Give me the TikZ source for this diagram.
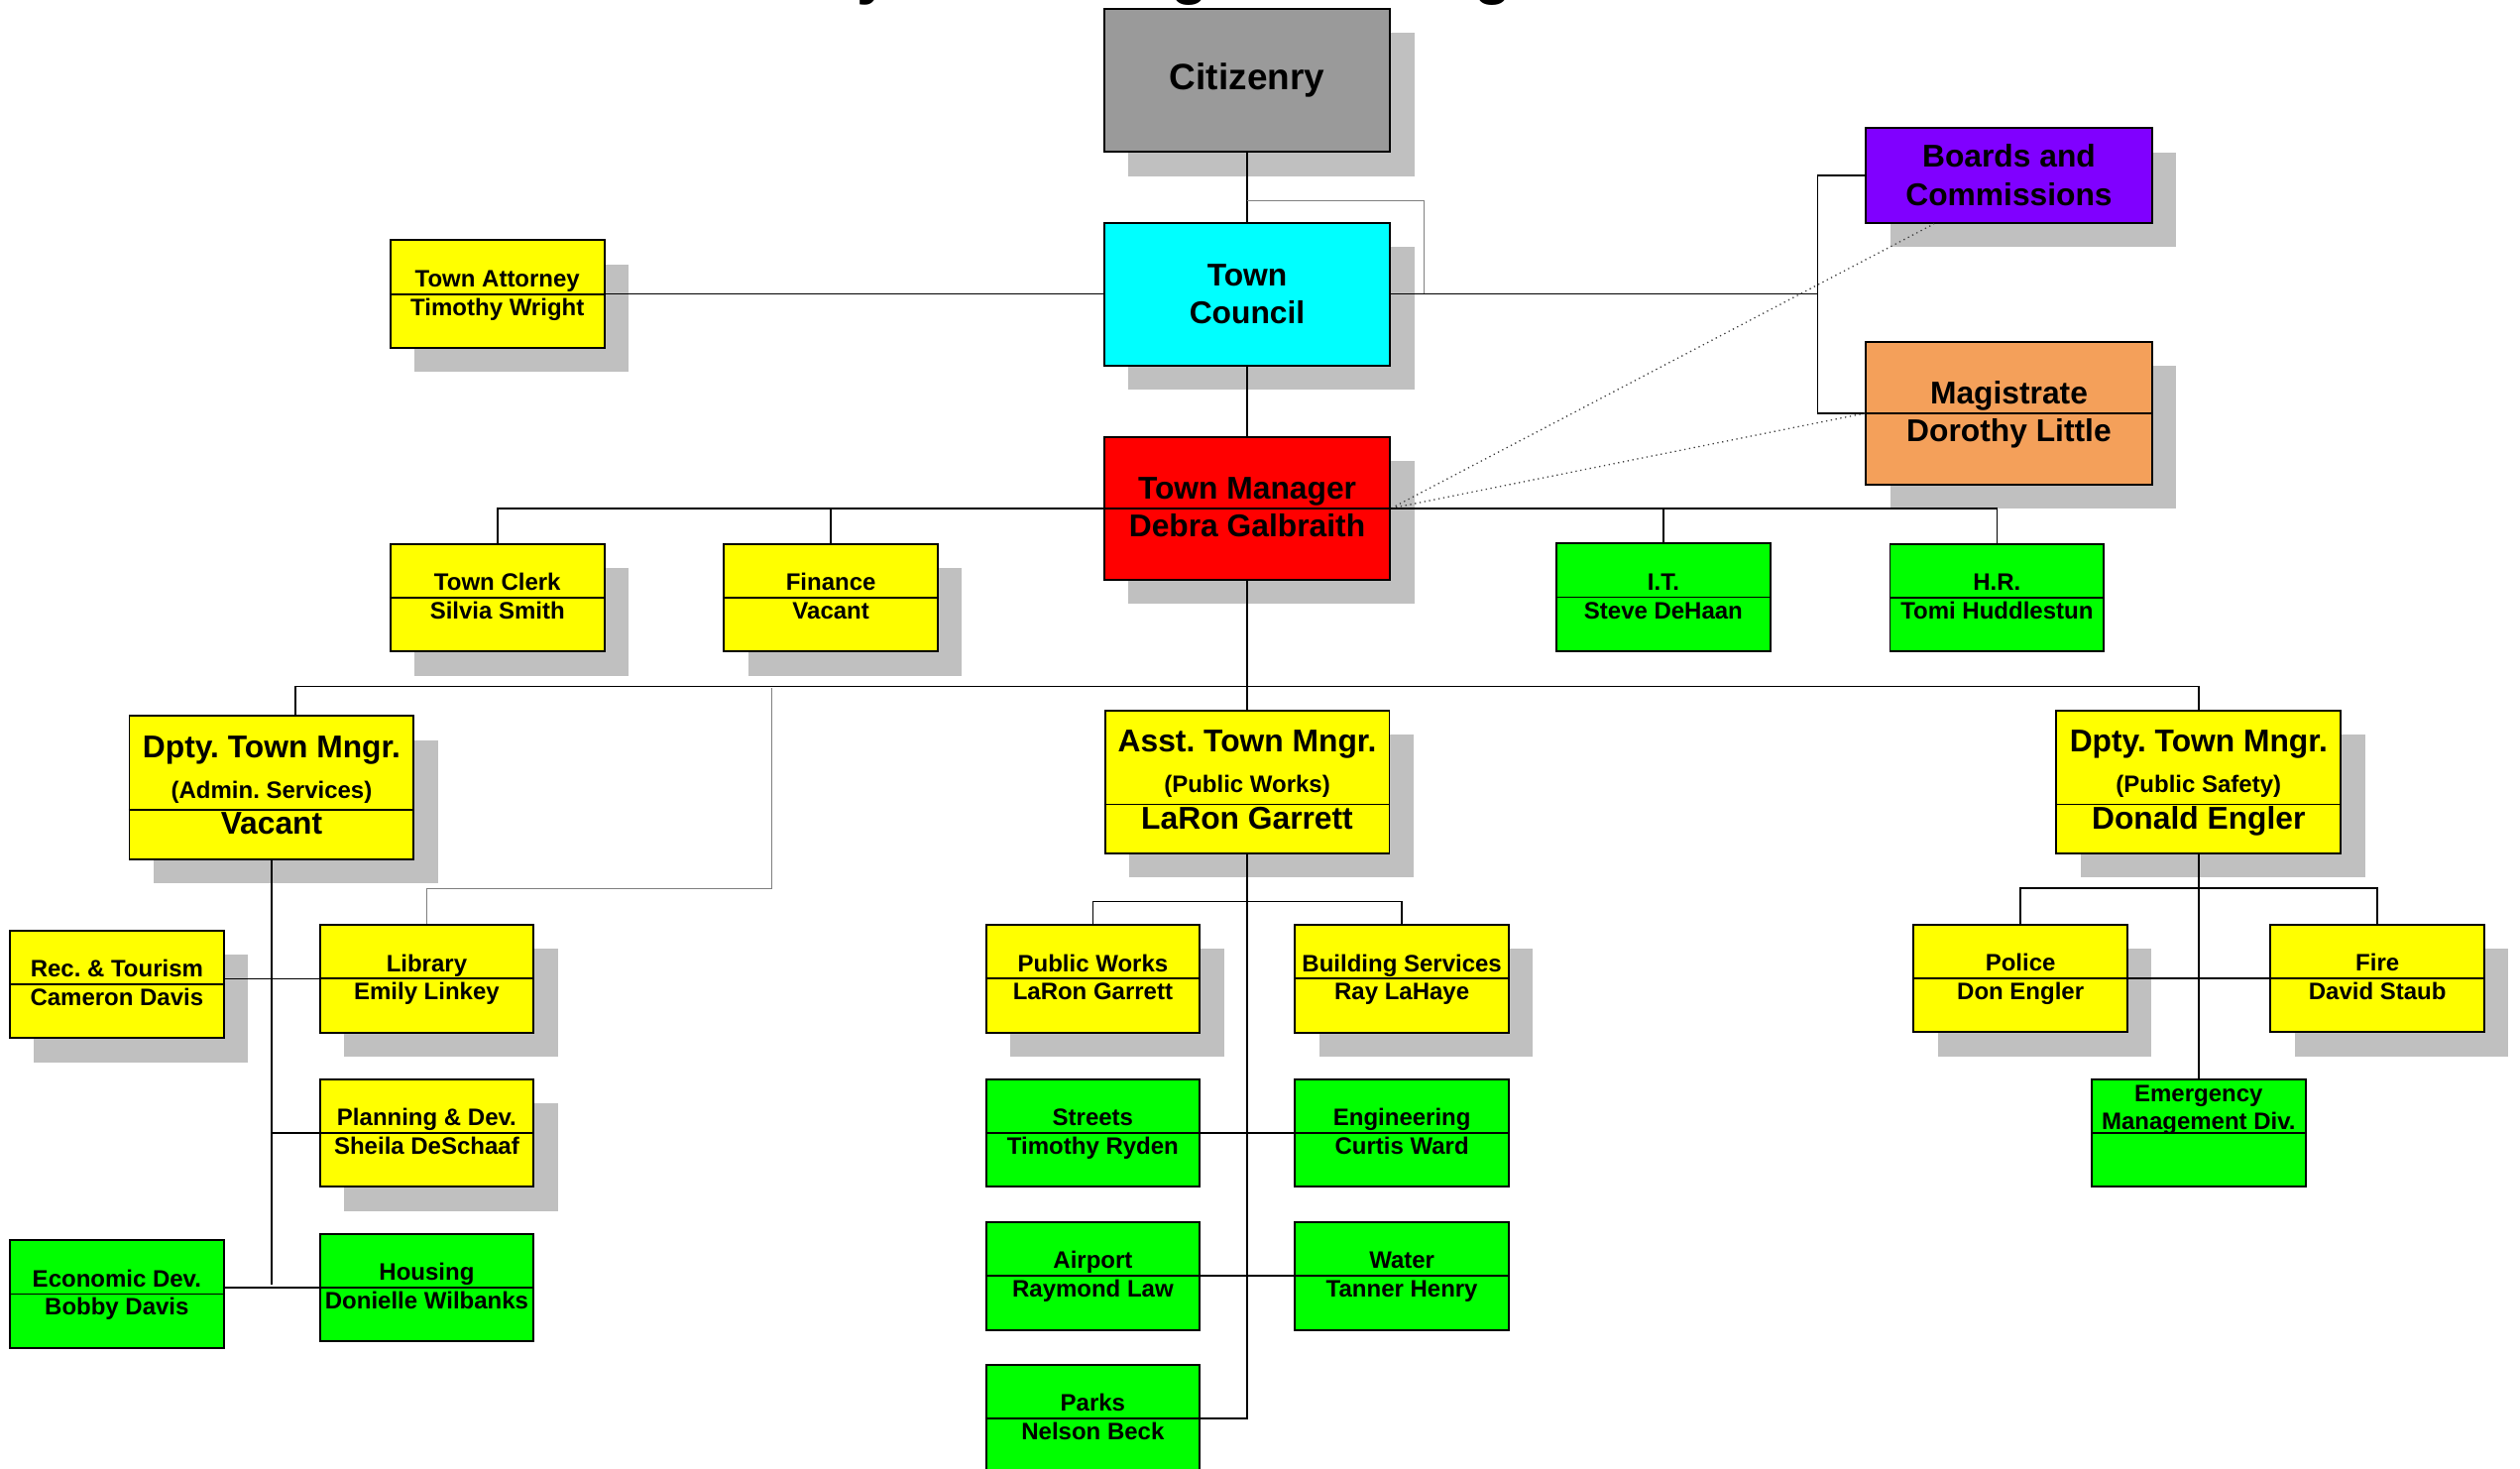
\documentclass[tikz,border=0pt]{standalone}
\usepackage{fontspec}
\setmainfont{Liberation Sans}
\usepackage{tikz}
\usetikzlibrary{positioning, calc, shadows}
\definecolor{citizenGray}{HTML}{9A9A9A}
\definecolor{shadowGray}{HTML}{C0C0C0}
\definecolor{councilCyan}{HTML}{00FFFF}
\definecolor{managerRed}{HTML}{FF0000}
\definecolor{boardsViolet}{HTML}{8000FF}
\definecolor{courtOrange}{HTML}{F4A05A}
\definecolor{deptYellow}{HTML}{FFFF00}
\definecolor{divGreen}{HTML}{00FF00}
\definecolor{thinGray}{HTML}{808080}
\newcommand{\unitfont}{\fontsize{14.8}{17.8}\selectfont\bfseries}
\newcommand{\headfont}{\fontsize{19.6}{24}\selectfont\bfseries}
\newcommand{\crowdfont}{\fontsize{22.8}{27}\selectfont\bfseries}
\newcommand{\chartfont}{\fontsize{37.8}{44}\selectfont\bfseries}
\tikzset{
  unit/.style={rectangle, draw=black, line width=1.2pt, inner sep=0pt,
    align=center},
  boxshadow/.style={drop shadow={shadow xshift=15pt, shadow yshift=-15pt,
    fill=shadowGray, opacity=1}},
  bigunit/.style={unit, minimum width=178pt, minimum height=89pt},
  smallunit/.style={unit, minimum width=133pt, minimum height=67pt},
  chiefunit/.style={unit, minimum width=177pt, minimum height=89pt},
  ttl/.style={anchor=base, yshift=4.5pt, font=\unitfont},
  who/.style={anchor=base, yshift=-13.3pt, font=\unitfont},
  bigttl/.style={anchor=base, yshift=6pt, font=\headfont},
  bigwho/.style={anchor=base, yshift=-17.5pt, font=\headfont},
  splitline/.style={line width=1.1pt},
  link/.style={line width=1pt},
  thinlink/.style={line width=0.6pt, thinGray},
  dotlink/.style={line width=0.8pt, black!75, dash pattern=on 0.8pt off 2.2pt},
}
% box split in title and holder at its middle
\newcommand{\postbox}[6][]{%
  \node[#4] (#2) at (#3) {};
  \draw[splitline] (#2.west) -- (#2.east);
  \node[#1ttl] (#2-t) at (#2.center) {#5};
  \node[#1who] (#2-n) at (#2.center) {#6};}
% deputy box: title, area, split, holder
\newcommand{\deputybox}[5]{%
  \node[chiefunit, fill=deptYellow, boxshadow] (#1) at (#2) {};
  \coordinate (#1-split) at ([yshift=-14pt]#1.center);
  \draw[splitline] (#1-split -| #1.west) -- (#1-split -| #1.east);
  \node[anchor=base, yshift=32.7pt, font=\headfont] (#1-t) at (#1-split) {#3};
  \node[anchor=base, yshift=7.4pt, font=\unitfont] (#1-a) at (#1-split) {#4};
  \node[anchor=base, yshift=-15.2pt, font=\headfont] (#1-n) at (#1-split) {#5};}

\begin{document}
\frenchspacing
\begin{tikzpicture}[x=1pt, y=-1pt]
    \useasboundingbox (0,0) rectangle (1568,914);
    % title, cut by the top edge
    \node[anchor=base, font=\chartfont, inner sep=0pt] (chart) at (774,-4.9)
      {Town of Payson Management Organization Chart};
    % top of the chart
    \node[bigunit, fill=citizenGray, boxshadow, font=\crowdfont] (citizen)
      at (776,50) {Citizenry};
    \node[bigunit, fill=councilCyan, boxshadow, font=\headfont] (council)
      at (776,183) {Town\\Council};
    \node[unit, minimum width=178pt, minimum height=59pt, fill=boardsViolet,
          boxshadow, font=\headfont] (boards) at (1250,109.2) {Boards and\\Commissions};
    \postbox{attorney}{309.5,183}{smallunit, fill=deptYellow, boxshadow}{Town Attorney}{Timothy Wright}
    \postbox[big]{magistrate}{1250,257.2}{bigunit, fill=courtOrange, boxshadow}{Magistrate}{Dorothy Little}
    \postbox[big]{manager}{776,316.3}{bigunit, fill=managerRed, boxshadow}{Town Manager}{Debra Galbraith}
    % staff of the manager
    \postbox{clerk}{309.5,372}{smallunit, fill=deptYellow, boxshadow}{Town Clerk}{Silvia Smith}
    \postbox{finance}{517,372}{smallunit, fill=deptYellow, boxshadow}{Finance}{Vacant}
    \postbox{it}{1035,371.6}{smallunit, fill=divGreen}{I.T.}{Steve DeHaan}
    \postbox{hr}{1242.5,372}{smallunit, fill=divGreen}{H.R.}{Tomi Huddlestun}
    % deputies
    \deputybox{admin}{169,490}{Dpty. Town Mngr.}{(Admin. Services)}{Vacant}
    \deputybox{asst}{776,486.6}{Asst. Town Mngr.}{(Public Works)}{LaRon Garrett}
    \deputybox{safety}{1368,486.6}{Dpty. Town Mngr.}{(Public Safety)}{Donald Engler}
    % admin services
    \postbox{rec}{72.7,612.6}{smallunit, fill=deptYellow, boxshadow}{Rec. \& Tourism}{Cameron Davis}
    \postbox{library}{265.5,609}{smallunit, fill=deptYellow, boxshadow}{Library}{Emily Linkey}
    \postbox{planning}{265.5,705}{smallunit, fill=deptYellow, boxshadow}{Planning \& Dev.}{Sheila DeSchaaf}
    \postbox{econ}{72.7,805.2}{smallunit, fill=divGreen}{Economic Dev.}{Bobby Davis}
    \postbox{housing}{265.5,801.2}{smallunit, fill=divGreen}{Housing}{Donielle Wilbanks}
    % public works
    \postbox{pubworks}{680,609}{smallunit, fill=deptYellow, boxshadow}{Public Works}{LaRon Garrett}
    \postbox{buildsvc}{872.3,609}{smallunit, fill=deptYellow, boxshadow}{Building Services}{Ray LaHaye}
    \postbox{streets}{680,705}{smallunit, fill=divGreen}{Streets}{Timothy Ryden}
    \postbox{engineering}{872.3,705}{smallunit, fill=divGreen}{Engineering}{Curtis Ward}
    \postbox{airport}{680,794}{smallunit, fill=divGreen}{Airport}{Raymond Law}
    \postbox{water}{872.3,794}{smallunit, fill=divGreen}{Water}{Tanner Henry}
    \postbox{parks}{680,882.6}{smallunit, fill=divGreen}{Parks}{Nelson Beck}
    % public safety
    \postbox{police}{1257.2,608.8}{smallunit, fill=deptYellow, boxshadow}{Police}{Don Engler}
    \postbox{fire}{1479.3,608.8}{smallunit, fill=deptYellow, boxshadow}{Fire}{David Staub}
    \node[smallunit, fill=divGreen] (emerg) at (1368,705) {};
    \draw[splitline] (emerg.west) -- (emerg.east);
    \node[anchor=base, yshift=19.5pt, font=\unitfont] (emerg-t) at (emerg.center) {Emergency};
    \node[anchor=base, yshift=2pt, font=\unitfont] (emerg-s) at (emerg.center) {Management Div.};

    % connectors, top part
    \coordinate (tapA) at (776,125);
    \coordinate (tapB) at (886,183);
    \coordinate (spine) at (1131,183);
    \draw[link] (citizen.south) -- (council.north);
    \draw[thinlink] (tapA) -| (tapB);
    \draw[link] (attorney.east) -- (council.west);
    \draw[link] (council.east) -- (spine);
    \draw[link] (boards.west) -| (spine) |- (magistrate.west);
    \draw[link] (council.south) -- (manager.north);
    \draw[dotlink] (manager.east) -- ([xshift=43pt]boards.south west);
    \draw[dotlink] (manager.east) -- (magistrate.west);
    % manager staff
    \draw[link] (clerk.north) |- (manager.west);
    \draw[link] (finance.north) |- (manager.west);
    \draw[link] (it.north) |- (manager.east);
    \draw[link] (hr.north) |- (manager.east);
    % deputies bus
    \coordinate (libtap) at (480,428);
    \draw[link] (manager.south) -- (asst.north);
    \draw[link] ([xshift=15pt]admin.north) -- ++(0,-17.8) -| (safety.north);
    \draw[thinlink] (libtap) -- ++(0,125) -| (library.north);
    % admin services
    \draw[link] (admin.south) -- ++(0,264);
    \draw[link] (rec.east |- library.west) -- (library.west);
    \draw[link] (admin.south |- planning.west) -- (planning.west);
    \draw[link] (econ.east |- housing.west) -- (housing.west);
    % public works
    \draw[link] (asst.south) |- (parks.east);
    \draw[link] (pubworks.north) -- ++(0,-14) -| (buildsvc.north);
    \draw[link] (streets.east) -- (engineering.west);
    \draw[link] (airport.east) -- (water.west);
    % public safety
    \draw[link] (safety.south) -- (emerg.north);
    \draw[link] (police.north) -- ++(0,-22) -| (fire.north);
    \draw[link] (police.east) -- (fire.west);
\end{tikzpicture}
\end{document}
